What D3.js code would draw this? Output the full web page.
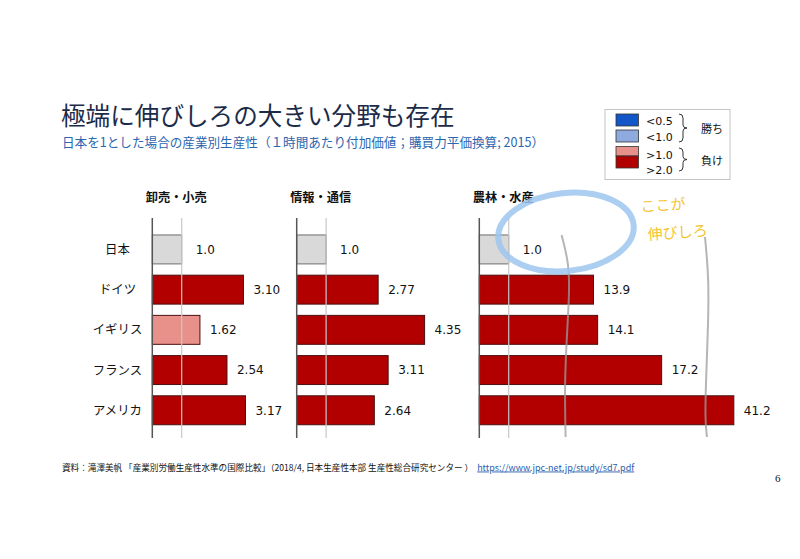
<!DOCTYPE html>
<html><head><meta charset="utf-8">
<script src="https://cdn.jsdelivr.net/npm/d3@7"></script>
<style>
html,body{margin:0;padding:0;background:#fff;}
svg{display:block;}
</style></head>
<body>
<script>
// ---- data ----
const countries = ["日本", "ドイツ", "イギリス", "フランス", "アメリカ"];
const panelTitles = ["卸売・小売", "情報・通信", "農林・水産"];
const retailValues = [1.0, 3.10, 1.62, 2.54, 3.17];
const retailLabels = ["1.0", "3.10", "1.62", "2.54", "3.17"];
const ictValues = [1.0, 2.77, 4.35, 3.11, 2.64];
const ictLabels = ["1.0", "2.77", "4.35", "3.11", "2.64"];
const agriValues = [1.0, 13.9, 14.1, 17.2, 41.2];
const agriLabels = ["1.0", "13.9", "14.1", "17.2", "41.2"];
const legendLabels = ["<0.5", "<1.0", ">1.0", ">2.0"];
const legendGroups = ["勝ち", "負け"];

const W = 800, H = 559;
const svg = d3.select("body").append("svg").attr("width", W).attr("height", H);
const JP = "'Noto Sans CJK JP','Noto Sans',sans-serif";
const NUM = "'DejaVu Sans',Verdana,sans-serif";

const cDarkBlue = "#1256c8", cLightBlue = "#8eaadf", cGrey = "#d9d9d9", cLightRed = "#e8918a", cDarkRed = "#b20000";
const colorOf = v => v === 1 ? cGrey : d3.scaleThreshold().domain([0.5, 1, 2]).range([cDarkBlue, cLightBlue, cLightRed, cDarkRed])(v);

// ---- titles ----
svg.append("text").attr("x", 61).attr("y", 124.5)
  .attr("font-family", JP).attr("font-size", 24.6).attr("fill", "#1c2b48")
  .text("極端に伸びしろの大きい分野も存在");
svg.append("text").attr("x", 62).attr("y", 146.5)
  .attr("font-family", JP).attr("font-size", 12.6).attr("fill", "#2a66b0")
  .text("日本を1とした場合の産業別生産性（１時間あたり付加価値；購買力平価換算; 2015）");

// ---- scales ----
const y = d3.scaleBand().domain(countries).range([223.7, 436]).padding(0.28);
const unit = 29.4;
const x1 = d3.scaleLinear().domain([0, 5]).range([152.3, 152.3 + 5 * unit]);
const x2 = d3.scaleLinear().domain([0, 5]).range([296.7, 296.7 + 5 * unit]);
// broken axis for agriculture
const x3 = d3.scaleLinear().domain([0, 2.9, 12.5, 19.3, 39.8, 42])
  .range([479.3, 564.6, 564.6, 705, 705, 750.3]);

const panels = [
  {title: panelTitles[0], vals: retailValues, labs: retailLabels, x: x1},
  {title: panelTitles[1], vals: ictValues, labs: ictLabels, x: x2},
  {title: panelTitles[2], vals: agriValues, labs: agriLabels, x: x3}
];

// category labels
svg.append("g").selectAll("text").data(countries).join("text")
  .attr("x", 117.5).attr("y", d => y(d) + y.bandwidth() / 2).attr("dy", "0.36em")
  .attr("text-anchor", "middle").attr("font-family", JP).attr("font-size", 12.4).attr("fill", "#111")
  .text(d => d);

panels.forEach(p => {
  const g = svg.append("g");
  const x0 = p.x(0);
  g.append("text").attr("x", x0 - 6.5).attr("y", 201.5)
    .attr("font-family", JP).attr("font-size", 12.2).attr("font-weight", "bold").attr("fill", "#111")
    .text(p.title);
  const rows = countries.map((c, i) => ({c, v: p.vals[i], l: p.labs[i]}));
  g.selectAll("rect").data(rows).join("rect")
    .attr("x", x0).attr("y", d => y(d.c))
    .attr("width", d => p.x(d.v) - x0).attr("height", y.bandwidth())
    .attr("fill", d => colorOf(d.v))
    .attr("stroke", d => d.v === 1 ? "#6e6e6e" : "#4a1010").attr("stroke-width", 1);
  // reference line at 1.0
  g.append("line").attr("x1", p.x(1)).attr("x2", p.x(1)).attr("y1", 218).attr("y2", 438)
    .attr("stroke", "#c8c8c8").attr("stroke-width", 1.2);
  // axis line
  g.append("line").attr("x1", x0).attr("x2", x0).attr("y1", 218).attr("y2", 438)
    .attr("stroke", "#555").attr("stroke-width", 1.5);
  g.selectAll("text.val").data(rows).join("text").attr("class", "val")
    .attr("x", d => p.x(d.v) + (d.v === 1 ? 14 : 10))
    .attr("y", d => y(d.c) + y.bandwidth() / 2).attr("dy", "0.36em")
    .attr("font-family", NUM).attr("font-size", 12).attr("fill", "#111")
    .text(d => d.l);
});

// ---- legend ----
const lg = svg.append("g");
lg.append("rect").attr("x", 605).attr("y", 109.5).attr("width", 125).attr("height", 70)
  .attr("fill", "#fff").attr("stroke", "#c4c4c4").attr("stroke-width", 1);
const sw = [
  {y: 114, h: 12, c: cDarkBlue}, {y: 130, h: 12, c: cLightBlue},
  {y: 146.5, h: 9.5, c: cLightRed}, {y: 156, h: 12, c: cDarkRed}
];
lg.selectAll("rect.sw").data(sw).join("rect").attr("class", "sw")
  .attr("x", 616).attr("y", d => d.y).attr("width", 22.5).attr("height", d => d.h)
  .attr("fill", d => d.c).attr("stroke", "#333").attr("stroke-width", 0.8);
const ly = [121, 137, 155.5, 170];
lg.selectAll("text.ll").data(legendLabels).join("text").attr("class", "ll")
  .attr("x", 646).attr("y", (d, i) => ly[i]).attr("dy", "0.36em")
  .attr("font-family", NUM).attr("font-size", 11).attr("fill", "#111").text(d => d);
const brace = (x, y0, y1) => {
  const m = (y0 + y1) / 2;
  return `M${x},${y0} Q${x + 4},${y0} ${x + 4},${y0 + 4} L${x + 4},${m - 3} Q${x + 4},${m} ${x + 8},${m} Q${x + 4},${m} ${x + 4},${m + 3} L${x + 4},${y1 - 4} Q${x + 4},${y1} ${x},${y1}`;
};
lg.append("path").attr("d", brace(679, 114, 142)).attr("fill", "none").attr("stroke", "#333").attr("stroke-width", 1);
lg.append("path").attr("d", brace(679, 148, 171)).attr("fill", "none").attr("stroke", "#333").attr("stroke-width", 1);
lg.selectAll("text.lgp").data(legendGroups).join("text").attr("class", "lgp")
  .attr("x", 701).attr("y", (d, i) => i === 0 ? 129 : 161.5).attr("dy", "0.36em")
  .attr("font-family", JP).attr("font-size", 11).attr("fill", "#111").text(d => d);

// ---- hand-drawn annotations ----
const bx1 = x3(2.9), bx2 = x3(19.3);
const wave = d3.line().curve(d3.curveBasis);
const w1 = [[bx1 - 3, 235], [bx1 + 4, 262], [bx1 + 5, 290], [bx1 + 2, 340], [bx1, 385], [bx1 + 1, 437]];
const w2 = [[bx2, 237], [bx2 + 4, 280], [bx2 + 3, 330], [bx2 + 1, 380], [bx2, 420], [bx2 + 2, 437]];
[w1, w2].forEach(pts => svg.append("path").attr("d", wave(pts)).attr("fill", "none")
  .attr("stroke", "#9c9c9c").attr("stroke-width", 2).attr("opacity", 0.75));
svg.append("ellipse").attr("cx", 566).attr("cy", 232).attr("rx", 68).attr("ry", 39)
  .attr("transform", "rotate(-6 566 232)")
  .attr("fill", "none").attr("stroke", "#9cc6ee").attr("stroke-width", 6).attr("opacity", 0.85);
svg.append("text").attr("x", 641).attr("y", 212).attr("font-family", JP).attr("font-size", 15)
  .attr("fill", "#f3c530").attr("transform", "rotate(-4 641 212)").text("ここが");
svg.append("text").attr("x", 648).attr("y", 240).attr("font-family", JP).attr("font-size", 15)
  .attr("fill", "#f3c530").attr("transform", "rotate(-4 648 240)").text("伸びしろ");

// ---- footnote ----
const fn = svg.append("text").attr("x", 62).attr("y", 470.5).attr("font-family", JP).attr("font-size", 8.6).attr("fill", "#111");
fn.append("tspan").text("資料：滝澤美帆 「産業別労働生産性水準の国際比較」（2018/4, 日本生産性本部 生産性総合研究センター ）");
fn.append("tspan").attr("dx", 4).attr("font-size", 9).attr("fill", "#2a5db0").attr("text-decoration", "underline").text("https://www.jpc-net.jp/study/sd7.pdf");
svg.append("text").attr("x", 775).attr("y", 482).attr("font-family", "'Liberation Serif',serif").attr("font-size", 11).attr("fill", "#111").text("6");
</script>
</body></html>
